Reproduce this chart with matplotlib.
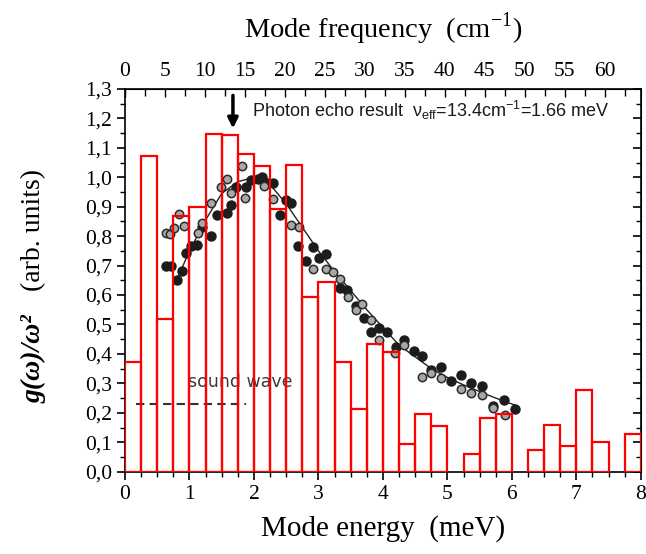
import matplotlib
matplotlib.use('Agg')
from matplotlib import pyplot as plt
from matplotlib.ticker import MultipleLocator, FixedLocator, FuncFormatter

plt.rcParams['font.family'] = ['Liberation Serif', 'DejaVu Serif']

# Histogram of mode energies (bin start in meV, height).
bin_starts = [0.0, 0.25, 0.5, 0.75, 1.0, 1.25, 1.5, 1.75, 2.0, 2.25, 2.5, 2.75,
              3.0, 3.25, 3.5, 3.75, 4.0, 4.25, 4.5, 4.75, 5.25, 5.5, 5.75,
              6.25, 6.5, 6.75, 7.0, 7.25, 7.75]
bin_heights = [0.374, 1.073, 0.519, 0.869, 0.90, 1.147, 1.145, 1.079, 1.039,
               0.893, 1.043, 0.595, 0.645, 0.371, 0.213, 0.434, 0.405, 0.095,
               0.196, 0.154, 0.059, 0.183, 0.195, 0.075, 0.16, 0.086, 0.276,
               0.10, 0.127]
bin_width = 0.25

# Measured points, black series.
black_e = [0.64, 0.71, 0.80, 0.89, 0.95, 1.03, 1.12, 1.20, 1.33, 1.42, 1.58,
           1.64, 1.72, 1.88, 1.95, 2.07, 2.13, 2.21, 2.29, 2.41, 2.50, 2.58,
           2.69, 2.81, 2.91, 3.01, 3.12, 3.34, 3.45, 3.58, 3.70, 3.81, 3.94,
           4.07, 4.20, 4.33, 4.48, 4.61, 4.75, 4.90, 5.05, 5.21, 5.37, 5.53,
           5.71, 5.88, 6.05]
black_g = [0.70, 0.697, 0.65, 0.68, 0.744, 0.765, 0.771, 0.83, 0.80, 0.872,
           0.878, 0.906, 0.968, 0.966, 0.991, 0.993, 1.0, 0.98, 0.98, 0.872,
           0.923, 0.912, 0.767, 0.714, 0.763, 0.725, 0.74, 0.623, 0.618,
           0.563, 0.522, 0.473, 0.488, 0.476, 0.425, 0.446, 0.41, 0.392,
           0.346, 0.355, 0.308, 0.329, 0.302, 0.29, 0.224, 0.244, 0.214]

# Measured points, grey series.
grey_e = [0.64, 0.70, 0.76, 0.83, 0.92, 1.13, 1.19, 1.34, 1.49, 1.58, 1.64,
          1.81, 1.86, 2.16, 2.30, 2.58, 2.70, 2.91, 3.12, 3.22, 3.34, 3.46,
          3.58, 3.68, 3.81, 3.94, 4.18, 4.33, 4.60, 4.75, 4.90, 5.21, 5.37,
          5.53, 5.70, 5.90]
grey_g = [0.812, 0.808, 0.828, 0.876, 0.835, 0.812, 0.844, 0.914, 0.966,
          0.994, 0.946, 1.039, 0.929, 0.972, 0.926, 0.838, 0.83, 0.69, 0.688,
          0.677, 0.654, 0.593, 0.548, 0.57, 0.516, 0.448, 0.402, 0.431,
          0.321, 0.334, 0.318, 0.281, 0.266, 0.26, 0.216, 0.194]

# Fitted curve.
fit_e = [0.82, 1.0, 1.25, 1.5, 1.75, 2.0, 2.25, 2.5, 2.75, 3.0, 3.25, 3.5,
         3.75, 4.0, 4.25, 4.5, 4.75, 5.0, 5.25, 5.5, 5.75, 6.0, 6.05]
fit_g = [0.66, 0.75, 0.855, 0.945, 0.985, 1.0, 0.975, 0.91, 0.83, 0.75, 0.68,
         0.615, 0.55, 0.49, 0.43, 0.39, 0.35, 0.32, 0.295, 0.272, 0.25, 0.23,
         0.226]

sound_e = [0.17, 1.87]
sound_g = [0.23, 0.23]

freq_ticks = [0, 5, 10, 15, 20, 25, 30, 35, 40, 45, 50, 55, 60]
mev_to_cm = 8.0655

fig = plt.figure(figsize=(6.46, 5.54), dpi=100)
ax = fig.add_axes([0.1935, 0.1486, 0.7985, 0.6908])

ax.plot(fit_e, fit_g, color='#222222', lw=1.0, zorder=2)
ax.plot(black_e, black_g, 'o', ms=6.5, mfc='#1c1c1c', mec='#1c1c1c', zorder=3)
ax.plot(grey_e, grey_g, 'o', ms=6, mfc='#a8a8a8', mec='#2a2a2a', mew=1.1,
        zorder=3)
ax.bar(bin_starts, bin_heights, width=bin_width, align='edge', fill=False,
       edgecolor='#ff0000', lw=1.6, zorder=4)

ax.plot(sound_e, sound_g, color='#333333', lw=1.5, dashes=(4, 2.5), zorder=2)
ax.text(0.97, 0.289, 'sound wave', family='DejaVu Sans', fontsize=12.5,
        color='#3a3a3a')

ax.annotate('', xy=(1.674, 1.166), xytext=(1.674, 1.278),
            arrowprops=dict(arrowstyle='-|>,head_width=0.3,head_length=0.6',
                            color='black', lw=2.5, shrinkA=0, shrinkB=0))
ax.text(1.97, 1.205,
        'Photon echo result  ν$_{\\mathregular{eff}}$=13.4cm$^{\\mathregular{-1}}$=1.66 meV',
        family='Liberation Sans', fontsize=13, va='baseline',
        color='#1a1a1a')

ax.set_xlim(0, 8)
ax.set_ylim(0, 1.3)
ax.xaxis.set_major_locator(MultipleLocator(1))
ax.xaxis.set_minor_locator(MultipleLocator(0.25))
ax.yaxis.set_major_locator(MultipleLocator(0.1))
ax.yaxis.set_minor_locator(MultipleLocator(0.05))
ax.yaxis.set_major_formatter(FuncFormatter(lambda v, p: ('%.1f' % v).replace('.', ',')))
ax.tick_params(which='major', direction='out', length=6, width=1.2, labelsize=15.5)
ax.tick_params(which='minor', direction='out', length=3.5, width=1.0)
for s in ax.spines.values():
    s.set_linewidth(1.2)

ax.set_xlabel('Mode energy  (meV)', fontsize=21, labelpad=8)

top = ax.secondary_xaxis('top', functions=(lambda e: e * mev_to_cm,
                                           lambda c: c / mev_to_cm))
top.xaxis.set_major_locator(FixedLocator(freq_ticks))
top.xaxis.set_minor_locator(FixedLocator([t + 2.5 for t in freq_ticks]))
top.tick_params(which='major', direction='in', length=6, width=1.0,
                labelsize=15.5, pad=6)
top.tick_params(which='minor', direction='in', length=5, width=1.0)
top.set_xlabel(r'Mode frequency  (cm$^{\mathregular{-1}}$)', fontsize=20.5,
               labelpad=17)

right = ax.secondary_yaxis('right')
right.yaxis.set_major_locator(MultipleLocator(0.1))
right.yaxis.set_minor_locator(MultipleLocator(0.05))
right.tick_params(which='major', direction='in', length=6, width=1.2,
                  labelright=False)
right.tick_params(which='minor', direction='in', length=3.5, width=1.0)

fig.text(0.052, 0.353, 'g(ω)/ω²', rotation=90, ha='center', va='center',
         fontsize=20, fontweight='bold', fontstyle='italic')
fig.text(0.052, 0.585, '(arb. units)', rotation=90, ha='center',
         va='center', fontsize=20)

fig.savefig('out.png', dpi=100)
